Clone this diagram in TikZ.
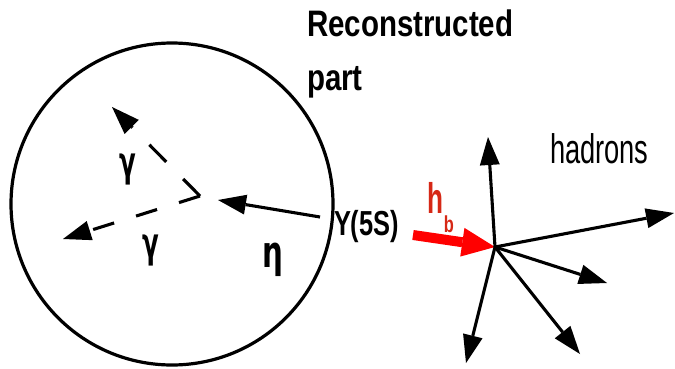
\documentclass[tikz,border=0pt]{standalone}
\usepackage{fontspec}
\setmainfont{Liberation Sans}
\newfontfamily\grk{DejaVu Sans}
\usetikzlibrary{arrows.meta}
\definecolor{hbred}{RGB}{214,40,22}
\definecolor{arrred}{RGB}{255,0,0}
\newcommand{\cnd}[3]{\scalebox{#1}[#2]{#3}}
\begin{document}
\begin{tikzpicture}[x=1pt,y=-1pt,
  blk/.tip={Triangle[length=28pt,width=20pt,line width=0pt]},
  redtip/.tip={Triangle[length=33pt,width=29pt,line width=0pt]},
  lw/.style={line width=3.1pt},
  arr/.style={lw,-blk},
  lbl/.style={inner sep=0pt,outer sep=0pt},
  grklbl/.style={lbl,font=\grk\bfseries\fontsize{35}{36}\selectfont}]
\useasboundingbox (0,0) rectangle (675,369);
% circle
\draw[line width=3.2pt] (172,204) circle[radius=161];
% texts
\node[lbl,anchor=base west,font=\bfseries\fontsize{33.5}{40}\selectfont] (rec) at (307,37) {\cnd{0.88}{1.1}{Reconstructed}};
\node[lbl,anchor=base west,font=\bfseries\fontsize{33.5}{40}\selectfont] (part) at (307,91) {\cnd{0.88}{1.1}{part}};
\node[lbl,anchor=base west,font=\fontsize{39}{40}\selectfont] (had) at (550,163) {\cnd{0.7}{1.06}{hadrons}};
\node[lbl,anchor=base west,font=\bfseries\fontsize{31}{32}\selectfont] (ups) at (334,235) {\cnd{0.82}{1.12}{Υ(5S)}};
\node[lbl,anchor=base west,font=\bfseries\fontsize{39}{40}\selectfont,text=hbred] (hb) at (427,213)
  {\cnd{0.67}{1.1}{h}\kern1pt\raisebox{-19pt}{\fontsize{21}{21}\selectfont\cnd{0.78}{1.1}{b}}};
\node[grklbl] (g1) at (128,170) {\cnd{0.7}{1.18}{γ}};
\node[grklbl] (g2) at (151,251) {\cnd{0.7}{1.18}{γ}};
\node[lbl,font=\grk\bfseries\fontsize{39}{40}\selectfont] (eta) at (273,260) {\cnd{0.75}{1.12}{η}};
% decay vertex
\coordinate (gv) at (200,196);
\coordinate (g1tip) at (112,107);
\coordinate (g2tip) at (63,239);
\coordinate (etatail) at (320,217);
\coordinate (etatip) at (218,200);
\draw[lw,-blk,dash pattern=on 24pt off 24pt] (gv) -- (g1tip);
\draw[lw,-blk,dash pattern=on 22pt off 23pt] (gv) -- (g2tip);
\draw[arr] (etatail) -- (etatip);
% hb
\coordinate (hbtail) at (413,235);
\coordinate (hv) at (495,247);
\draw[line width=10pt,arrred,-redtip] (hbtail) -- (hv);
% hadrons
\coordinate (h1) at (488,137);
\coordinate (h2) at (674,213);
\coordinate (h3) at (607,283);
\coordinate (h4) at (580,354);
\coordinate (h5) at (466,363);
\foreach \t in {h1,h2,h3,h4,h5} \draw[arr] (hv) -- (\t);
\end{tikzpicture}
\end{document}
